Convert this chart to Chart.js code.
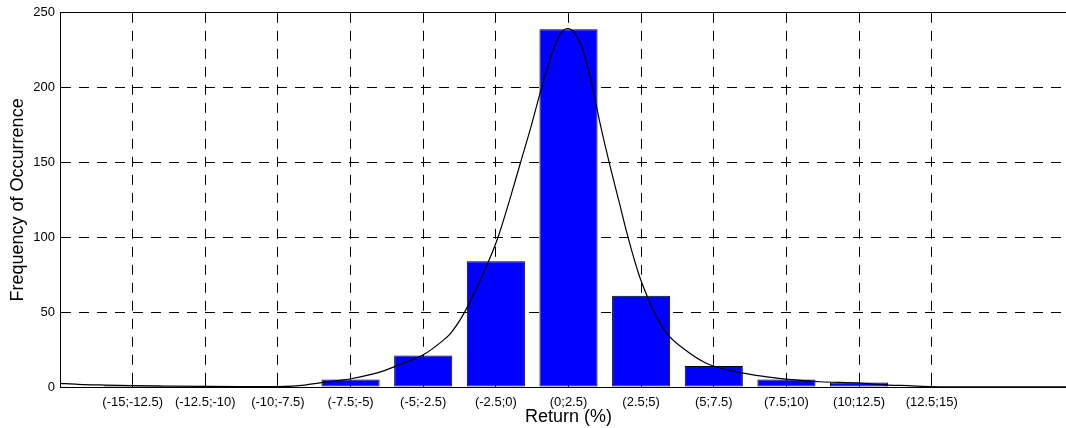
<!DOCTYPE html>
<html>
<head>
<meta charset="utf-8">
<script src="https://cdn.jsdelivr.net/npm/chart.js@4.4.0/dist/chart.umd.min.js"></script>
<style>
  html, body { margin: 0; padding: 0; background: #fff; overflow: hidden; }
  #wrap { width: 1066px; height: 428px; overflow: hidden; }
</style>
</head>
<body>
<div id="wrap"><canvas id="histChart" width="1077" height="428"></canvas></div>
<script>
// histogram bins
const categories = ["(-15;-12.5)", "(-12.5;-10)", "(-10;-7.5)", "(-7.5;-5)", "(-5;-2.5)", "(-2.5;0)",
  "(0;2.5)", "(2.5;5)", "(5;7.5)", "(7.5;10)", "(10;12.5)", "(12.5;15)"];
const frequencies = [1, 0, 0, 5, 21, 84, 239, 61, 14, 5, 3, 0];

// fitted curve, x in bin index units
const fitX = [-1, -0.75, -0.38, 0, 0.51, 1, 1.48, 2, 2.2, 2.37, 2.6, 2.85, 3, 3.39, 3.68, 4, 4.27, 4.38, 4.57,
  4.9, 5.03, 5.19, 5.34, 5.49, 5.63, 5.79, 5.89, 5.99, 6.09, 6.2, 6.33, 6.44, 6.56, 6.69, 6.82, 6.97, 7.08,
  7.18, 7.35, 7.6, 7.89, 8.28, 8.76, 8.99, 9.46, 9.98, 10.4, 10.68, 10.99, 11.65, 13];
const fitY = [2.4, 1.8, 1.3, 0.9, 0.6, 0.4, 0.3, 0.3, 0.6, 1.3, 2.9, 4.4, 5.5, 9.8, 15, 21.5, 31, 36, 50,
  84, 100, 125, 150, 175, 200, 225, 236, 239.5, 236, 225, 200, 175, 150, 125, 100, 75, 61,
  50, 36, 25, 16, 10.4, 6.6, 5.3, 3.5, 2.7, 1.3, 0.9, 0.3, 0.1, 0.1];

const yTicks = [0, 50, 100, 150, 200, 250];

// matlab style box: solid top line + inward tick marks
const matlabBox = {
  id: "matlabBox",
  beforeDatasetsDraw(chart) {
    const { ctx, chartArea: a, scales: { x, y } } = chart;
    const al = (p) => Math.round(p - 0.5) + 0.5;
    ctx.save();
    ctx.strokeStyle = "#000";
    ctx.lineWidth = 1;
    ctx.setLineDash([]);
    ctx.beginPath();
    ctx.moveTo(a.left, al(a.top));
    ctx.lineTo(a.right, al(a.top));
    x.ticks.forEach((t) => {
      const px = al(x.getPixelForValue(t.value));
      ctx.moveTo(px, a.top);
      ctx.lineTo(px, a.top + 7);
      ctx.moveTo(px, a.bottom);
      ctx.lineTo(px, a.bottom - 7);
    });
    y.ticks.forEach((t) => {
      const py = al(y.getPixelForValue(t.value));
      ctx.moveTo(a.left, py);
      ctx.lineTo(a.left + 7, py);
    });
    ctx.stroke();
    ctx.restore();
  }
};

const font = "'Liberation Sans', Arial, sans-serif";

const ctx = document.getElementById("histChart").getContext("2d");
const histChart = new Chart(ctx, {
  type: "bar",
  data: {
    datasets: [
      {
        type: "line",
        data: fitX.map((v, i) => ({ x: v, y: fitY[i] })),
        borderColor: "#000",
        borderWidth: 1.2,
        pointRadius: 0,
        fill: false,
        cubicInterpolationMode: "monotone",
        order: 0
      },
      {
        type: "bar",
        data: frequencies.map((v, i) => ({ x: i, y: v })),
        backgroundColor: "#0000ff",
        borderColor: "#000",
        borderWidth: 1,
        borderSkipped: false,
        barPercentage: 0.8,
        categoryPercentage: 1,
        order: 1
      }
    ]
  },
  options: {
    responsive: false,
    animation: false,
    layout: { padding: { top: 12, left: 0, right: 0, bottom: 0 } },
    plugins: { legend: { display: false }, tooltip: { enabled: false } },
    scales: {
      x: {
        type: "linear",
        min: -1,
        max: 13,
        offset: false,
        afterFit: (s) => { s.height = 41; },
        afterBuildTicks: (s) => { s.ticks = categories.map((c, i) => ({ value: i })); },
        grid: { color: "#000", lineWidth: 1, drawTicks: false, offset: false },
        border: { display: true, color: "#000", width: 1, dash: [10, 8] },
        ticks: {
          autoSkip: false,
          maxRotation: 0,
          padding: 8,
          color: "#000",
          font: { family: font, size: 13 },
          callback: (v) => categories[v] ?? ""
        },
        title: {
          display: true,
          text: "Return (%)",
          color: "#000",
          font: { family: font, size: 18 },
          padding: { top: 0, bottom: 0 }
        }
      },
      y: {
        min: 0,
        max: 250,
        afterFit: (s) => { s.width = 60; },
        afterBuildTicks: (s) => { s.ticks = yTicks.map((v) => ({ value: v })); },
        grid: { color: "#000", lineWidth: 1, drawTicks: false },
        border: { display: true, color: "#000", width: 1, dash: [10, 8] },
        ticks: {
          padding: 5,
          color: "#000",
          font: { family: font, size: 13 }
        },
        title: {
          display: true,
          text: "Frequency of Occurrence",
          color: "#000",
          font: { family: font, size: 18 },
          padding: { top: 7, bottom: 0 }
        }
      }
    }
  },
  plugins: [matlabBox]
});
</script>
</body>
</html>
